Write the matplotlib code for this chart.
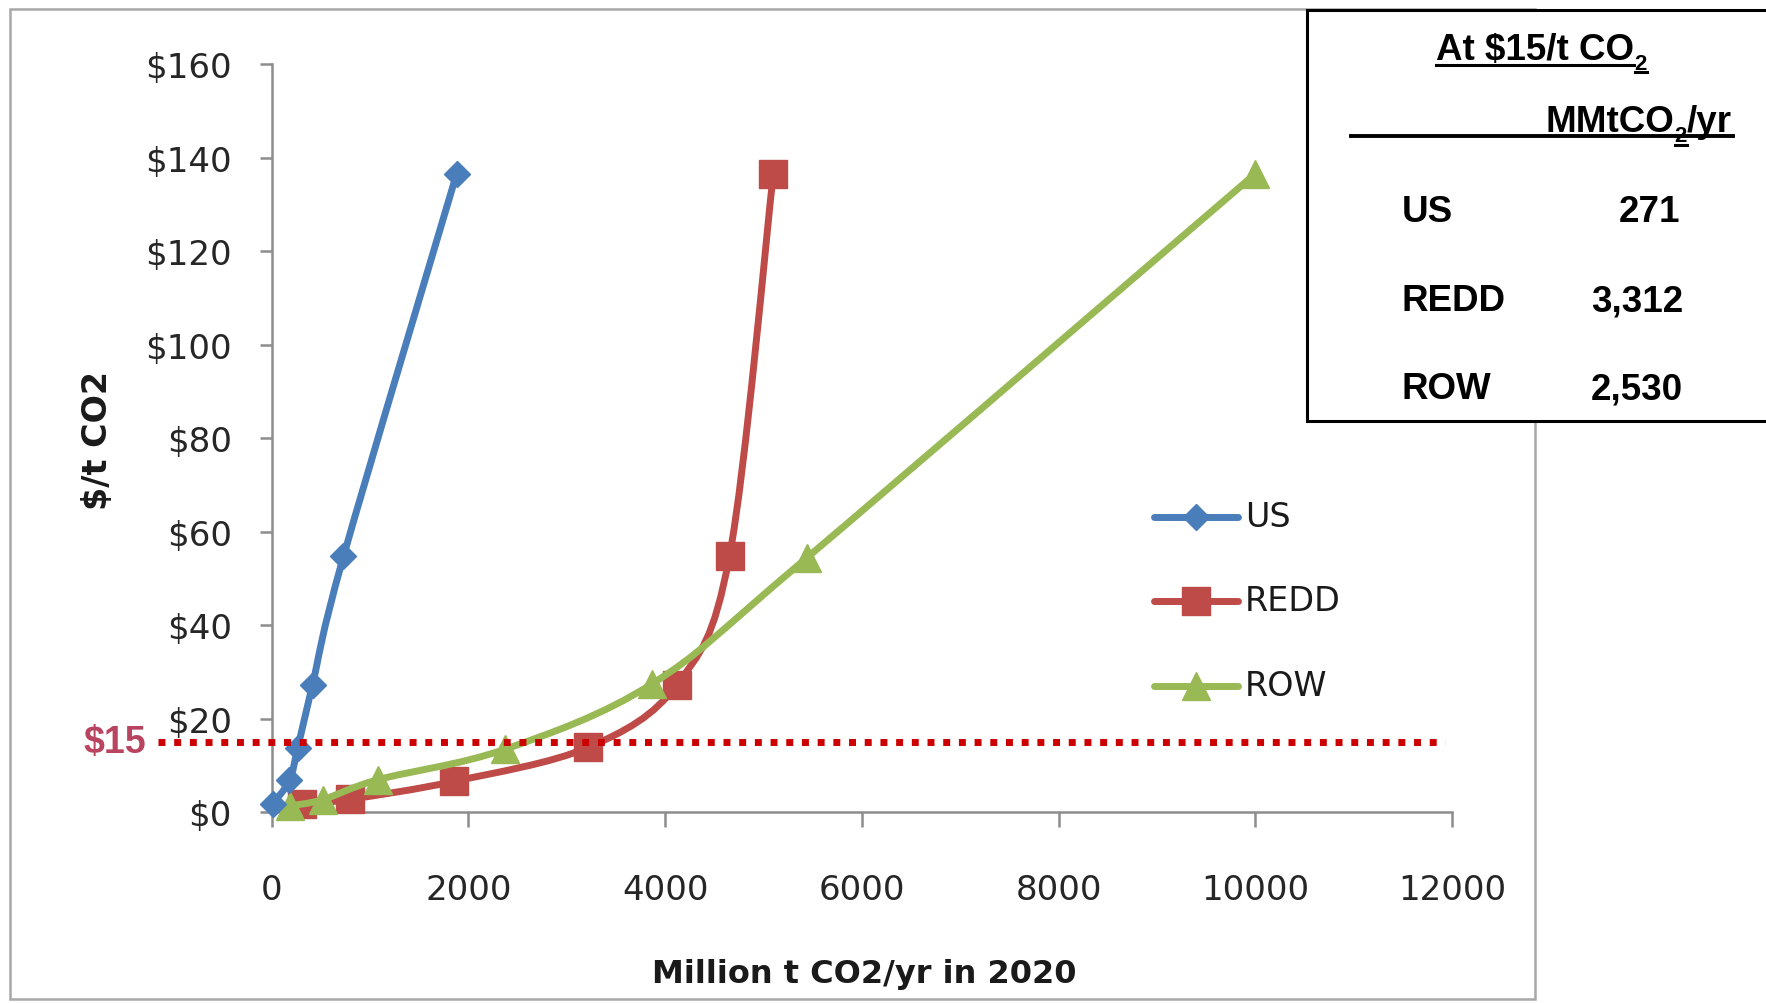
import numpy as np
import matplotlib
matplotlib.use("Agg")
import matplotlib.pyplot as plt
from matplotlib.path import Path
from matplotlib.patches import PathPatch, Rectangle
from matplotlib.lines import Line2D

# Marginal abatement cost curves: quantity (million t CO2/yr in 2020) vs price ($/t CO2)
us_qty = [10, 180, 265, 415, 730, 1880]
us_price = [1.8, 6.8, 13.8, 27.3, 54.7, 136.5]

redd_qty = [310, 800, 1850, 3220, 4120, 4655, 5100]
redd_price = [1.7, 2.8, 6.6, 13.9, 27.3, 54.8, 136.5]

row_qty = [190, 520, 1085, 2375, 3870, 5440, 10000]
row_price = [1.4, 2.7, 7.0, 13.5, 27.5, 54.4, 136.5]

series_names = ["US", "REDD", "ROW"]
series_colors = ["#4a7ebb", "#be4b48", "#98b954"]
series_markers = ["D", "s", "^"]
series_msize = [13, 20, 20]

reference_price = 15
table_regions = ["US", "REDD", "ROW"]
table_values = ["271", "3,312", "2,530"]

x_ticks = [0, 2000, 4000, 6000, 8000, 10000, 12000]
y_ticks = [0, 20, 40, 60, 80, 100, 120, 140, 160]
y_tick_labels = ["$" + str(v) for v in y_ticks]

W, H = 1766, 1004
fig = plt.figure(figsize=(W / 100, H / 100), dpi=100)
fig.patch.set_facecolor("white")

ax = fig.add_axes([271.7 / W, 1 - 813.3 / H, (1451.9 - 271.7) / W, (813.3 - 65.0) / H])
ax.set_xlim(0, 12000)
ax.set_ylim(0, 160)
for side in ("top", "right"):
    ax.spines[side].set_visible(False)
for side in ("left", "bottom"):
    ax.spines[side].set_color("#8c8c8c")
    ax.spines[side].set_linewidth(1.8)

ax.set_xticks(x_ticks)
ax.set_xticklabels([str(v) for v in x_ticks])
ax.set_yticks(y_ticks)
ax.set_yticklabels(y_tick_labels)
ax.tick_params(axis="y", direction="out", length=8.6, width=1.8, color="#8c8c8c",
               pad=20, labelsize=24.5, labelcolor="#262626")
ax.tick_params(axis="x", direction="out", length=10.8, width=1.8, color="#8c8c8c",
               pad=33, labelsize=24.5, labelcolor="#262626")
for lbl in ax.get_xticklabels() + ax.get_yticklabels():
    lbl.set_family("DejaVu Sans")


def smooth_path(xs, ys):
    """Cubic Bezier path through the points (Catmull-Rom style smoothing)."""
    pts = np.column_stack([xs, ys]).astype(float)
    n = len(pts)
    verts = [pts[0]]
    codes = [Path.MOVETO]
    for i in range(n - 1):
        p0 = pts[max(i - 1, 0)]
        p1 = pts[i]
        p2 = pts[i + 1]
        p3 = pts[min(i + 2, n - 1)]
        verts += [p1 + (p2 - p0) / 6.0, p2 - (p3 - p1) / 6.0, p2]
        codes += [Path.CURVE4] * 3
    return Path(verts, codes)


series = [
    (redd_qty, redd_price, 1),
    (row_qty, row_price, 2),
    (us_qty, us_price, 0),
]
z = 3
for qx, py, k in series:
    patch = PathPatch(smooth_path(qx, py), transform=ax.transData, fill=False,
                      edgecolor=series_colors[k], lw=5, capstyle="round",
                      joinstyle="round", zorder=z, clip_on=False)
    ax.add_patch(patch)
    ax.plot(qx, py, linestyle="none", marker=series_markers[k],
            ms=series_msize[k], color=series_colors[k], mec=series_colors[k],
            zorder=z + 0.5, clip_on=False)
    z += 1

# $15 reference price line
ax.axhline(reference_price, xmin=-0.0963, xmax=0.9941, color="#cc0000", lw=5,
           linestyle=(0, (1.0, 1.26)), dash_capstyle="butt", clip_on=False, zorder=10)
ax.text(-0.1065, reference_price, "$15", transform=ax.get_yaxis_transform(),
        ha="right", va="center", fontsize=27, fontweight="bold",
        family="Liberation Sans", color="#b8445f", clip_on=False)

# Pixel-space overlay for frame, titles, legend and the summary table
ov = fig.add_axes([0, 0, 1, 1], zorder=5)
ov.set_xlim(0, W)
ov.set_ylim(H, 0)
ov.axis("off")

ov.add_patch(Rectangle((10, 10), 1525, 990, fill=False, edgecolor="#a8a8a8", lw=1.8, zorder=1))

ov.text(97, 441, "$/t CO2", rotation=90, ha="center", va="center", fontsize=24,
        fontweight="bold", family="DejaVu Sans", color="#1a1a1a")
ov.text(864, 975, "Million t CO2/yr in 2020", ha="center", va="center", fontsize=23,
        fontweight="bold", family="DejaVu Sans", color="#1a1a1a")

# legend
legend_y = [518, 602, 687]
for k, name in enumerate(series_names):
    yy = legend_y[k]
    ov.add_line(Line2D([1154, 1238], [yy, yy], color=series_colors[k], lw=5,
                       solid_capstyle="round", zorder=3))
    ov.add_line(Line2D([1196], [yy], linestyle="none", marker=series_markers[k],
                       ms=series_msize[k], color=series_colors[k], zorder=4))
    ov.text(1245, yy, name, ha="left", va="center", fontsize=24,
            family="DejaVu Sans", color="#1a1a1a", zorder=4)

# summary table
ov.add_patch(Rectangle((1306.7, 11), 600, 410.7, facecolor="white", edgecolor="black",
                       lw=2.2, zorder=6, clip_on=False))
tfont = dict(family="Liberation Sans", fontweight="bold", color="black", zorder=7)

renderer = fig.canvas.get_renderer()
to_px = ov.transData.inverted()


def right_edge(txt):
    bb = txt.get_window_extent(renderer)
    return to_px.transform((bb.x1, bb.y0))[0]


t_title = ov.text(1435.7, 60, "At $15/t CO", ha="left", va="baseline", fontsize=26.5, **tfont)
x_end = right_edge(t_title)
t_sub = ov.text(x_end + 1, 70.5, "2", ha="left", va="baseline", fontsize=16, **tfont)
x_sub = right_edge(t_sub)
ov.add_line(Line2D([1435.7, x_end], [65.5, 65.5], color="black", lw=2.2, zorder=7))
ov.add_line(Line2D([x_end + 1, x_sub], [72.8, 72.8], color="black", lw=2.2, zorder=7))

t_unit = ov.text(1545, 131.7, "MMtCO", ha="left", va="baseline", fontsize=26.5, **tfont)
u_end = right_edge(t_unit)
t_usub = ov.text(u_end + 1, 142, "2", ha="left", va="baseline", fontsize=16, **tfont)
u_sub = right_edge(t_usub)
ov.text(u_sub, 131.7, "/yr", ha="left", va="baseline", fontsize=26.5, **tfont)
ov.add_line(Line2D([1351, 1733], [137.3, 137.3], color="black", lw=2.8, zorder=7))
ov.add_line(Line2D([u_end + 1, u_sub], [145.7, 145.7], color="black", lw=2.2, zorder=7))

row_baselines = [221.7, 311.5, 399.3]
value_right = [1680, 1683, 1683]
for k in range(len(table_regions)):
    ov.text(1401.7, row_baselines[k], table_regions[k], ha="left", va="baseline",
            fontsize=26.5, **tfont)
    ov.text(value_right[k], row_baselines[k], table_values[k], ha="right",
            va="baseline", fontsize=26.5, **tfont)

fig.savefig("out.png", dpi=100, facecolor="white")
